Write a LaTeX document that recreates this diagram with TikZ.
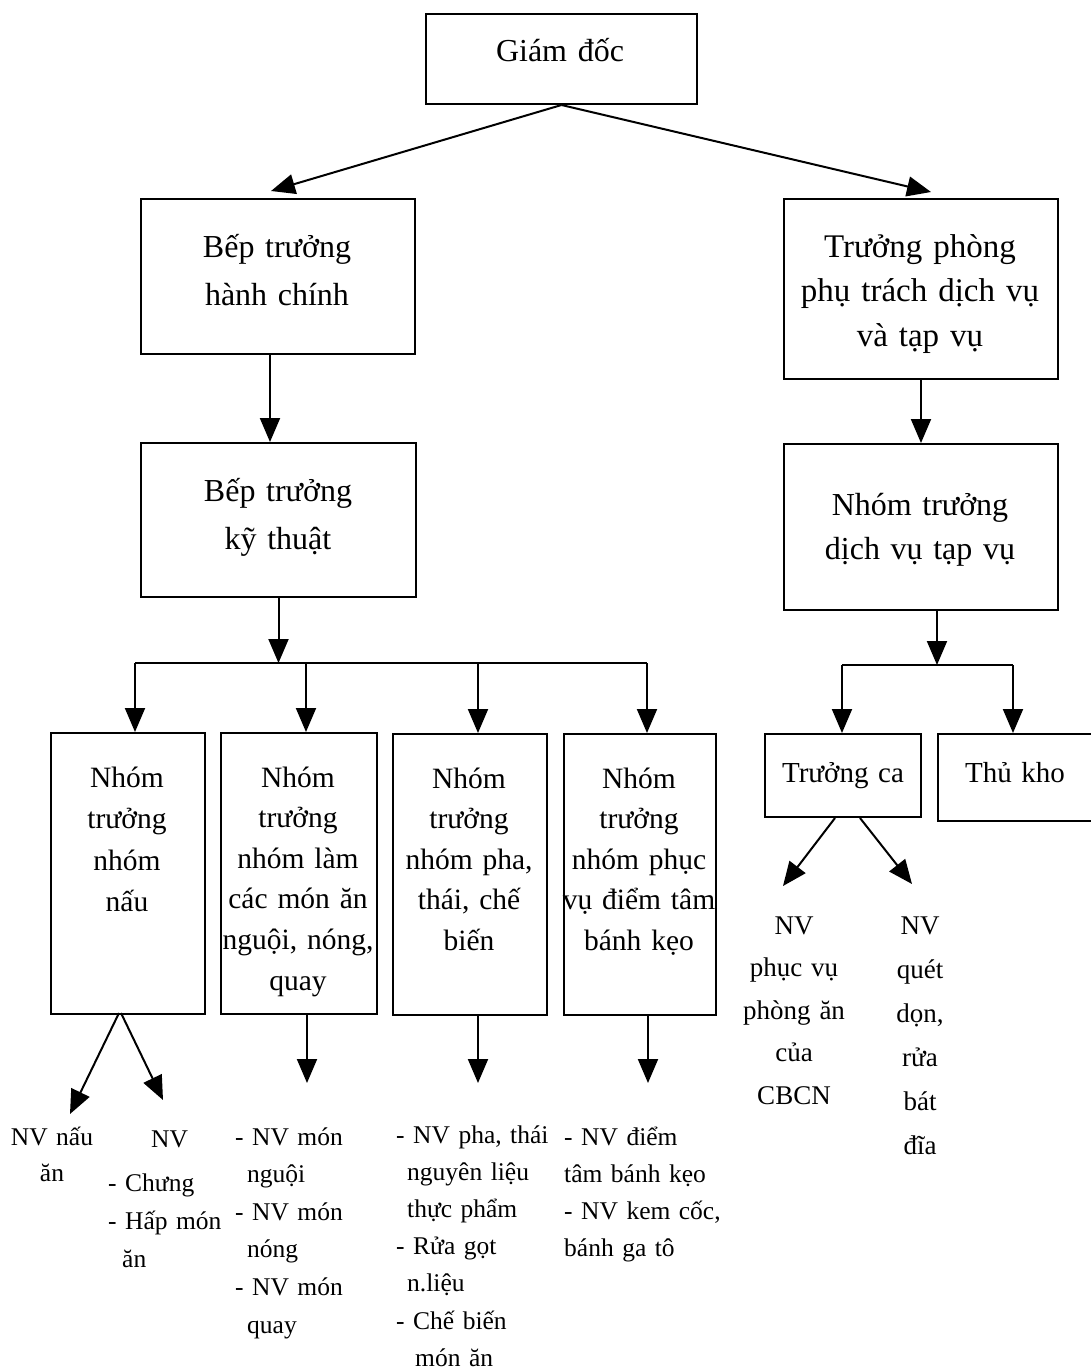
\documentclass[tikz,border=0pt]{standalone}
\usepackage{fontspec}
\setmainfont{Liberation Serif}
\usetikzlibrary{arrows.meta}
\begin{document}
\begin{tikzpicture}[x=1pt,y=-1pt,
 box/.style={draw, line width=2pt, inner sep=0pt, anchor=north west},
 arr/.style={line width=2pt, -{Triangle[width=20pt,length=24pt]}},
 ln/.style={line width=2pt},
 ctext/.style={inner sep=0pt, align=center, text width=#1, anchor=base},
 ltext/.style={inner sep=0pt, align=left, text width=#1, anchor=base west},
 big/.style={font=\fontsize{32}{48}\selectfont},
 mid/.style={font=\fontsize{29.5}{40.6}\selectfont},
 sml/.style={font=\fontsize{25.5}{37.6}\selectfont}
]
\useasboundingbox (0,0) rectangle (1091,1371);
% boxes
\node[box, minimum width=271pt, minimum height=90pt] (gd) at (425,13) {};
\node[box, minimum width=274pt, minimum height=155pt] (bhc) at (140,198) {};
\node[box, minimum width=274pt, minimum height=180pt] (tp) at (783,198) {};
\node[box, minimum width=275pt, minimum height=154pt] (bkt) at (140,442) {};
\node[box, minimum width=274pt, minimum height=166pt] (nt) at (783,443) {};
\node[box, minimum width=154pt, minimum height=281pt] (n1) at (50,732) {};
\node[box, minimum width=156pt, minimum height=281pt] (n2) at (220,732) {};
\node[box, minimum width=154pt, minimum height=281pt] (n3) at (392,733) {};
\node[box, minimum width=152pt, minimum height=281pt] (n4) at (563,733) {};
\node[box, minimum width=156pt, minimum height=83pt] (tc) at (764,733) {};
\node[box, minimum width=170pt, minimum height=87pt] (tk) at (937,733) {};
% box texts
\node[ctext=260pt, big] (gdt) at (560,61) {Giám đốc};
\node[ctext=260pt, big] (bhct) at (277,257) {Bếp trưởng\\hành chính};
\node[ctext=270pt, font=\fontsize{33}{44.5}\selectfont] (tpt) at (920,257) {Trưởng phòng\\phụ trách dịch vụ\\và tạp vụ};
\node[ctext=260pt, big] (bktt) at (278,501) {Bếp trưởng\\kỹ thuật};
\node[ctext=260pt, font=\fontsize{32}{44}\selectfont] (ntt) at (920,515) {Nhóm trưởng\\dịch vụ tạp vụ};
\node[ctext=170pt, font=\fontsize{29.5}{41.5}\selectfont] (n1t) at (127,787) {Nhóm\\trưởng\\nhóm\\nấu};
\node[ctext=170pt, mid] (n2t) at (298,787) {Nhóm\\trưởng\\nhóm làm\\các món ăn\\nguội, nóng,\\quay};
\node[ctext=170pt, mid] (n3t) at (469,788) {Nhóm\\trưởng\\nhóm pha,\\thái, chế\\biến};
\node[ctext=170pt, mid] (n4t) at (639,788) {Nhóm\\trưởng\\nhóm phục\\vụ điểm tâm\\bánh kẹo};
\node[ctext=170pt, font=\fontsize{29}{40}\selectfont] (tct) at (843,782) {Trưởng ca};
\node[ctext=170pt, font=\fontsize{29}{40}\selectfont] (tkt) at (1015,782) {Thủ kho};
% lower texts
\node[ctext=150pt, font=\fontsize{27}{42.5}\selectfont] (r1) at (794,934) {NV\\phục vụ\\phòng ăn\\của\\CBCN};
\node[ctext=120pt, font=\fontsize{27}{44}\selectfont] (r2) at (920,934) {NV\\quét\\dọn,\\rửa\\bát\\đĩa};
\node[ctext=110pt, font=\fontsize{25.5}{36}\selectfont] (b0) at (52,1145) {NV nấu\\ăn};
\node[ltext=160pt, font=\fontsize{25.5}{38}\selectfont] (b1) at (108,1147) {\hspace*{43pt}NV\\[6pt]- Chưng\\- Hấp món\\\hspace*{14pt}ăn};
\node[ltext=160pt, sml] (b2) at (235,1145) {- NV món\\\hspace*{12pt}nguội\\- NV món\\\hspace*{12pt}nóng\\- NV món\\\hspace*{12pt}quay};
\node[ltext=170pt, font=\fontsize{25.5}{37.2}\selectfont] (b3) at (396,1143) {- NV pha, thái\\\hspace*{11pt}nguyên liệu\\\hspace*{11pt}thực phẩm\\- Rửa gọt\\\hspace*{11pt}n.liệu\\- Chế biến\\\hspace*{19pt}món ăn};
\node[ltext=170pt, font=\fontsize{25.5}{37}\selectfont] (b4) at (564,1145) {- NV điểm\\tâm bánh kẹo\\- NV kem cốc,\\bánh ga tô};
% coordinates
\coordinate (e1) at (271,191);
\coordinate (e2) at (931,192);
\coordinate (x270) at (270,0);
\coordinate (bus1) at (135,663);
\coordinate (bus2) at (306,663);
\coordinate (bus3) at (478,663);
\coordinate (bus4) at (647,663);
\coordinate (rbus1) at (842,665);
\coordinate (rbus2) at (1013,665);
\coordinate (ntb) at (937,609);
\coordinate (tcs1) at (835,818);
\coordinate (tcs2) at (860,818);
\coordinate (tce1) at (783,886);
\coordinate (tce2) at (912,884);
\coordinate (n1s1) at (119,1013);
\coordinate (n1s2) at (121,1013);
\coordinate (n1e1) at (70,1114);
\coordinate (n1e2) at (163,1100);
\coordinate (c2) at (307,1083);
\coordinate (c3) at (478,1083);
\coordinate (c4) at (648,1083);
% connectors
\draw[arr] (gd.south) -- (e1);
\draw[arr] (gd.south) -- (e2);
\draw[arr] (bhc.south -| x270) -- (bkt.north -| x270);
\draw[arr] (tp.south) -- (nt.north);
\draw[arr] (bkt.south) -- (bkt.south |- bus1);
\draw[ln] (bus1) -- (bus4);
\draw[arr] (bus1) -- (bus1 |- n1.north);
\draw[arr] (bus2) -- (bus2 |- n2.north);
\draw[arr] (bus3) -- (bus3 |- n3.north);
\draw[arr] (bus4) -- (bus4 |- n4.north);
\draw[arr] (ntb) -- (ntb |- rbus1);
\draw[ln] (rbus1) -- (rbus2);
\draw[arr] (rbus1) -- (rbus1 |- tc.north);
\draw[arr] (rbus2) -- (rbus2 |- tk.north);
\draw[arr] (tcs1) -- (tce1);
\draw[arr] (tcs2) -- (tce2);
\draw[arr] (n1s1) -- (n1e1);
\draw[arr] (n1s2) -- (n1e2);
\draw[arr] (n2.south -| c2) -- (c2);
\draw[arr] (n3.south -| c3) -- (c3);
\draw[arr] (n4.south -| c4) -- (c4);
\end{tikzpicture}
\end{document}
